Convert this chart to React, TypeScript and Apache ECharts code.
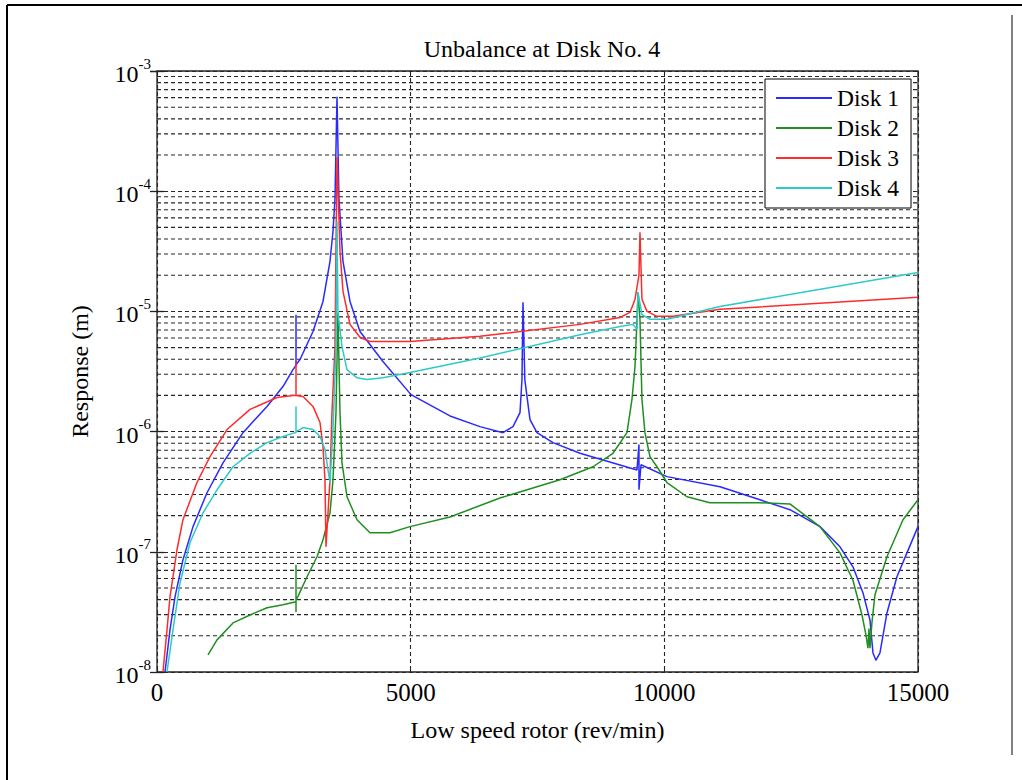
import React, { useEffect, useRef } from 'react';
import * as echarts from 'echarts';

const titleText = 'Unbalance at Disk No. 4';
const xName = 'Low speed rotor (rev/min)';
const yName = 'Response (m)';
const seriesNames = ['Disk 1', 'Disk 2', 'Disk 3', 'Disk 4'];
const seriesColors = ['#2a2aff', '#1f8f1f', '#ff2a2a', '#2ccaca'];
const xMin = 0;
const xMax = 15000;
const xInterval = 5000;
const yMin = 1e-8;
const yMax = 1e-3;

const disk1: [number, number][] = [
  [158, 1.0e-8], [256, 2.24e-8], [355, 4.22e-8], [512, 8.6e-8], [710, 1.62e-7],
  [986, 3.1e-7], [1301, 5.5e-7], [1695, 9.8e-7], [2168, 1.62e-6], [2483, 2.37e-6],
  [2680, 3.28e-6], [2740, 3.55e-6], [2740, 9.4e-6], [2740, 3.6e-6], [2819, 3.98e-6],
  [3075, 6.8e-6], [3272, 1.21e-5], [3410, 2.61e-5], [3469, 4.64e-5], [3508, 8.6e-5],
  [3548, 6.1e-4], [3587, 8.6e-5], [3666, 2.61e-5], [3804, 1.21e-5], [4001, 6.8e-6],
  [4454, 3.83e-6], [5006, 2.03e-6], [5775, 1.35e-6], [6366, 1.1e-6], [6820, 0.98e-6],
  [7017, 1.1e-6], [7155, 1.44e-6], [7194, 2.71e-6], [7214, 1.19e-5], [7250, 2.71e-6],
  [7352, 1.26e-6], [7490, 0.98e-6], [7805, 8.1e-7], [8337, 6.6e-7], [8791, 5.8e-7],
  [9461, 4.8e-7], [9500, 7.8e-7], [9500, 3.28e-7], [9540, 5.3e-7], [10052, 4.22e-7],
  [11097, 3.48e-7], [11885, 2.71e-7], [12476, 2.24e-7], [13068, 1.62e-7], [13462, 1.1e-7],
  [13718, 7.5e-8], [13916, 4.55e-8], [14053, 2.71e-8], [14113, 1.44e-8], [14170, 1.25e-8],
  [14250, 1.44e-8], [14388, 3.1e-8], [14585, 6.2e-8], [14782, 9.8e-8], [15000, 1.62e-7],
];

const disk2: [number, number][] = [
  [1005, 1.39e-8], [1183, 1.85e-8], [1498, 2.56e-8], [1833, 2.98e-8], [2168, 3.42e-8],
  [2483, 3.62e-8], [2720, 3.83e-8], [2740, 3.83e-8], [2740, 7.8e-8], [2740, 3.16e-8],
  [2740, 4.0e-8], [2779, 4.26e-8], [2957, 6.2e-8], [3154, 9.1e-8], [3272, 1.26e-7],
  [3410, 2.11e-7], [3469, 3.98e-7], [3528, 1.44e-6], [3567, 9.8e-6], [3607, 1.44e-6],
  [3646, 5.5e-7], [3745, 2.87e-7], [3942, 1.85e-7], [4198, 1.44e-7], [4592, 1.44e-7],
  [4987, 1.62e-7], [5775, 1.95e-7], [6760, 2.8e-7], [7214, 3.2e-7], [7943, 3.98e-7],
  [8593, 5.1e-7], [8988, 6.6e-7], [9264, 9.8e-7], [9362, 1.85e-6], [9422, 3.48e-6],
  [9461, 8.6e-6], [9481, 1.44e-5], [9520, 8.6e-6], [9559, 1.85e-6], [9618, 0.98e-6],
  [9717, 6.2e-7], [9855, 5.1e-7], [10052, 3.77e-7], [10446, 2.87e-7], [10900, 2.56e-7],
  [11885, 2.56e-7], [12476, 2.5e-7], [13068, 1.62e-7], [13462, 9.8e-8], [13718, 5.8e-8],
  [13896, 2.98e-8], [13975, 2.03e-8], [14014, 1.58e-8], [14034, 2.3e-8], [14053, 1.58e-8],
  [14093, 2.6e-8], [14152, 4.4e-8], [14388, 9.1e-8], [14704, 1.85e-7], [15000, 2.71e-7],
];

const disk3: [number, number][] = [
  [118, 1.0e-8], [197, 2.24e-8], [256, 4.22e-8], [394, 1.04e-7], [512, 1.85e-7],
  [788, 3.77e-7], [1045, 6.2e-7], [1380, 1.04e-6], [1833, 1.53e-6], [2365, 1.92e-6],
  [2680, 2.0e-6], [2740, 2.0e-6], [2740, 3.83e-6], [2740, 2.0e-6], [2878, 1.96e-6],
  [3075, 1.62e-6], [3213, 1.19e-6], [3272, 7.5e-7], [3311, 3.98e-7], [3331, 1.1e-7],
  [3410, 3.98e-7], [3449, 1.44e-6], [3508, 5.1e-6], [3528, 3.28e-5], [3548, 1.92e-4],
  [3607, 3.16e-5], [3666, 1.47e-5], [3804, 7.8e-6], [4001, 6.1e-6], [4198, 5.62e-6],
  [4987, 5.62e-6], [6366, 6.2e-6], [8337, 7.8e-6], [9126, 8.9e-6], [9323, 9.8e-6],
  [9422, 1.26e-5], [9500, 2.0e-5], [9520, 4.55e-5], [9559, 1.26e-5], [9658, 1.0e-5],
  [9855, 9.1e-6], [10170, 9.1e-6], [11097, 1.04e-5], [15000, 1.31e-5],
];

const disk4: [number, number][] = [
  [197, 1.0e-8], [315, 2.24e-8], [453, 5.5e-8], [650, 1.19e-7], [907, 2.11e-7],
  [1183, 3.28e-7], [1498, 5.1e-7], [1833, 6.6e-7], [2168, 8.1e-7], [2483, 9.1e-7],
  [2720, 9.8e-7], [2740, 9.8e-7], [2740, 1.62e-6], [2740, 1.0e-6], [2878, 1.08e-6],
  [3075, 1.04e-6], [3213, 9.1e-7], [3311, 7.1e-7], [3370, 4.8e-7], [3410, 3.77e-7],
  [3469, 1.04e-6], [3528, 5.1e-6], [3548, 5.6e-5], [3567, 9.8e-6], [3646, 5.1e-6],
  [3745, 3.28e-6], [3942, 2.8e-6], [4139, 2.71e-6], [4454, 2.8e-6], [4987, 3.1e-6],
  [6366, 4.1e-6], [8337, 6.4e-6], [9126, 7.5e-6], [9382, 7.8e-6], [9461, 7.1e-6],
  [9481, 1.44e-5], [9559, 9.4e-6], [9717, 8.6e-6], [10052, 8.6e-6], [11097, 1.1e-5],
  [15000, 2.11e-5],
];

const seriesData = [disk1, disk2, disk3, disk4];

// minor log grid values (2..9 x 10^n)
const minorGrid: number[] = [];
for (let e = -8; e < -3; e++) {
  for (let k = 2; k <= 9; k++) minorGrid.push(k * Math.pow(10, e));
}

const FONT = '"Liberation Serif", "Times New Roman", serif';
const GRID_COLOR = '#262626';
const GRID_DASH = [4, 3];

export default function App() {
  const ref = useRef<HTMLDivElement>(null);
  useEffect(() => {
    if (!ref.current) return;
    const chart = echarts.init(ref.current, undefined, { renderer: 'svg' });
    const yLabel = {
      show: true,
      margin: 6,
      formatter: (v: number) => `{b|10}{s|${Math.round(Math.log10(v))}}`,
      rich: {
        b: { fontSize: 24, fontFamily: FONT, color: '#000', lineHeight: 30, verticalAlign: 'bottom' },
        s: { fontSize: 15, fontFamily: FONT, color: '#000', lineHeight: 15, verticalAlign: 'top' },
      },
    };
    const gridSeries = minorGrid.map((v, i) => ({
      name: `minor-grid-${i}`,
      type: 'line',
      data: [[xMin, v], [xMax, v]],
      silent: true,
      showSymbol: false,
      symbol: 'none',
      z: 1,
      lineStyle: { color: GRID_COLOR, type: GRID_DASH, width: 1.1 },
      emphasis: { disabled: true },
      tooltip: { show: false },
    }));
    chart.setOption({
      animation: false,
      backgroundColor: '#fff',
      title: {
        text: titleText,
        left: 537,
        textAlign: 'center',
        top: 32,
        textStyle: { fontFamily: FONT, fontSize: 24, fontWeight: 'normal', color: '#000' },
      },
      legend: {
        data: seriesNames,
        orient: 'vertical',
        left: 765,
        top: 79,
        padding: [7, 12, 8, 11],
        itemGap: 6,
        itemWidth: 56,
        itemHeight: 2,
        icon: 'rect',
        backgroundColor: '#fff',
        borderColor: '#000',
        borderWidth: 1,
        z: 10,
        textStyle: { fontFamily: FONT, fontSize: 23.5, lineHeight: 24, color: '#000' },
      },
      grid: {
        left: 157,
        top: 71,
        width: 761,
        height: 601,
        show: true,
        borderColor: '#222',
        borderWidth: 1.3,
        backgroundColor: 'transparent',
      },
      xAxis: [
        {
          type: 'value',
          min: xMin,
          max: xMax,
          interval: xInterval,
          name: xName,
          nameLocation: 'middle',
          nameGap: 46,
          nameTextStyle: { fontFamily: FONT, fontSize: 24, color: '#000' },
          axisLine: { show: false },
          axisTick: { show: true, inside: true, length: 6, lineStyle: { color: '#222' } },
          axisLabel: { fontFamily: FONT, fontSize: 25, color: '#000', margin: 8, formatter: (v: number) => String(v) },
          splitLine: { show: true, lineStyle: { color: GRID_COLOR, type: GRID_DASH, width: 1.1 } },
        },
        {
          type: 'value',
          position: 'top',
          min: xMin,
          max: xMax,
          interval: xInterval,
          axisLine: { show: false },
          axisTick: { show: true, inside: true, length: 6, lineStyle: { color: '#222' } },
          axisLabel: { show: false },
          splitLine: { show: false },
        },
      ],
      yAxis: [
        {
          type: 'log',
          logBase: 10,
          min: yMin,
          max: yMax,
          name: yName,
          nameLocation: 'middle',
          nameGap: 65,
          nameTextStyle: { fontFamily: FONT, fontSize: 24, color: '#000' },
          axisLine: { show: false },
          axisTick: { show: true, inside: true, length: 7, lineStyle: { color: '#222', width: 1.3 } },
          axisLabel: yLabel,
          splitLine: { show: true, lineStyle: { color: GRID_COLOR, type: GRID_DASH, width: 1.1 } },
        },
        {
          type: 'log',
          logBase: 10,
          min: yMin,
          max: yMax,
          position: 'right',
          axisLine: { show: false },
          axisTick: { show: true, inside: true, length: 7, lineStyle: { color: '#222', width: 1.3 } },
          axisLabel: { show: false },
          splitLine: { show: false },
        },
      ],
      graphic: [
        { type: 'line', shape: { x1: 7, y1: 5, x2: 1022, y2: 5 }, style: { stroke: '#000', lineWidth: 2 } },
        { type: 'line', shape: { x1: 7, y1: 5, x2: 7, y2: 780 }, style: { stroke: '#000', lineWidth: 2 } },
        { type: 'line', shape: { x1: 1012, y1: 15, x2: 1012, y2: 755 }, style: { stroke: '#000', lineWidth: 1 } },
      ],
      series: [
        ...gridSeries,
        ...seriesNames.map((name, i) => ({
          name,
          type: 'line',
          data: seriesData[i],
          showSymbol: false,
          symbol: 'none',
          clip: true,
          z: 3,
          color: seriesColors[i],
          lineStyle: { color: seriesColors[i], width: 1.5 },
          emphasis: { disabled: true },
        })),
      ],
    });
    return () => chart.dispose();
  }, []);
  return (
    <div
      ref={ref}
      style={{ position: 'fixed', left: 0, top: 0, width: 1022, height: 780, background: '#fff' }}
    />
  );
}
